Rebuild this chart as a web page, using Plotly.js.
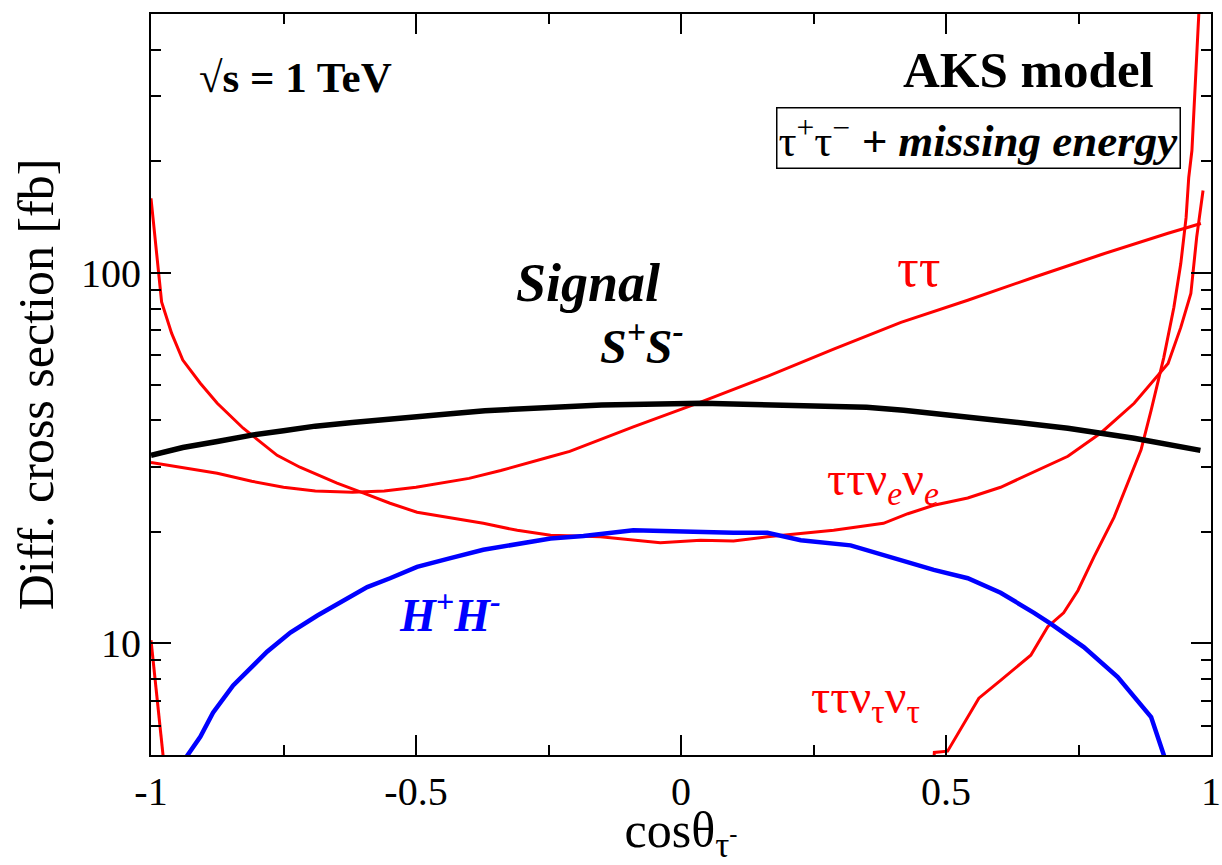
<!DOCTYPE html>
<html>
<head>
<meta charset="utf-8">
<script src="https://cdn.plot.ly/plotly-3.0.1.min.js"></script>
<style>
  html, body { margin: 0; padding: 0; background: #fff; }
  #chart { width: 1222px; height: 865px; }
</style>
</head>
<body>
<div id="chart"></div>
<script>
// Differential cross sections vs cos(theta) of the tau-, sqrt(s) = 1 TeV

// Signal S+S-
const cosSignal = [-1.0, -0.94, -0.875, -0.81, -0.75, -0.69, -0.62, -0.5, -0.435, -0.37, -0.25, -0.15, 0.04, 0.23, 0.35, 0.42, 0.48, 0.6, 0.73, 0.855, 0.98];
const xsSignal  = [32.2, 33.8, 35.1, 36.5, 37.5, 38.6, 39.5, 41.1, 41.7, 42.5, 43.4, 44.0, 44.5, 44.0, 43.4, 42.6, 41.8, 40.0, 38.1, 35.8, 33.2];

// H+H-
const cosHH = [-0.935, -0.907, -0.883, -0.845, -0.781, -0.737, -0.686, -0.637, -0.592, -0.549, -0.498, -0.435, -0.373, -0.246, -0.184, -0.09, 0.005, 0.099, 0.163, 0.226, 0.32, 0.415, 0.477, 0.541, 0.603, 0.666, 0.698, 0.76, 0.824, 0.887, 0.913];
const xsHH  = [4.9, 5.6, 6.5, 7.7, 9.5, 10.7, 11.9, 13.1, 14.2, 15.0, 16.1, 17.0, 17.9, 19.2, 19.5, 20.2, 20.0, 19.9, 19.9, 19.0, 18.4, 16.8, 15.8, 15.0, 13.7, 12.1, 11.3, 9.78, 8.11, 6.33, 4.9];

// tau tau
const cosTT = [-1.0, -0.875, -0.81, -0.75, -0.69, -0.62, -0.56, -0.5, -0.4, -0.34, -0.25, -0.21, -0.09, 0.037, 0.163, 0.288, 0.415, 0.541, 0.666, 0.792, 0.919, 0.981];
const xsTT  = [30.8, 28.8, 27.4, 26.4, 25.8, 25.6, 25.8, 26.4, 27.9, 29.3, 31.8, 33.0, 38.4, 44.8, 52.6, 62.3, 73.6, 84.4, 97.4, 112, 128, 136];

// tau tau nu_e nu_e
const cosTTee = [-1.0, -0.99, -0.98, -0.961, -0.94, -0.907, -0.875, -0.826, -0.762, -0.719, -0.686, -0.649, -0.6, -0.549, -0.498, -0.435, -0.373, -0.309, -0.246, -0.152, -0.039, 0.037, 0.099, 0.163, 0.288, 0.382, 0.428, 0.477, 0.541, 0.603, 0.666, 0.73, 0.792, 0.855, 0.919, 0.943, 0.962, 0.973, 0.985];
const xsTTee  = [159, 115, 83.5, 68.7, 58.2, 50.4, 44.5, 38.1, 32.2, 29.9, 28.5, 27.1, 25.5, 23.9, 22.6, 21.8, 21.1, 20.2, 19.6, 19.4, 18.7, 19.0, 18.9, 19.4, 20.2, 21.1, 22.4, 23.6, 24.7, 26.4, 29.0, 32.0, 37.0, 44.5, 57.0, 71.3, 88, 125, 167];

// tau tau nu_tau nu_tau (falls below the frame in the middle)
const cosTTtt = [-1.0, -0.977, -0.9, 0.476, 0.478, 0.503, 0.562, 0.603, 0.66, 0.692, 0.722, 0.749, 0.779, 0.817, 0.855, 0.868, 0.887, 0.911, 0.93, 0.943, 0.953, 0.958, 0.964, 0.977, 0.985];
const xsTTtt  = [10.2, 4.95, null, 4.5, 5.08, 5.12, 7.12, 7.95, 9.3, 11.1, 12.1, 13.9, 17.1, 21.9, 29.9, 33.3, 42.6, 59.2, 80.8, 106, 141, 181, 214, 500, 700];

// Axis ticks
const xTickVals = [-1, -0.5, 0, 0.5, 1];
const xTickText = ['-1', '-0.5', '0', '0.5', '1'];
const xMinorVals = [-0.75, -0.25, 0.25, 0.75];
const yTickVals = [10, 100];
const yTickText = ['10', '100'];
const yMinorVals = [6, 7, 8, 9, 20, 30, 40, 50, 60, 70, 80, 90, 200, 300, 400];

const RED = '#ff0000', BLUE = '#0000ff', BLACK = '#000000';
const SERIF = '"Liberation Serif", "Times New Roman", Times, serif';

function line(x, y, color, width) {
  return { x: x, y: y, type: 'scatter', mode: 'lines', connectgaps: false,
           line: { color: color, width: width }, hoverinfo: 'skip', showlegend: false };
}

const traces = [
  line(cosTT, xsTT, RED, 3),
  line(cosTTee, xsTTee, RED, 3),
  line(cosTTtt, xsTTtt, RED, 3),
  line(cosHH, xsHH, BLUE, 4.5),
  line(cosSignal, xsSignal, BLACK, 5.5)
];

// Place text by frame fractions
function note(text, x, y, size, color, extra) {
  return Object.assign({ text: text, x: x, y: y, xref: 'paper', yref: 'paper',
    xanchor: 'center', yanchor: 'middle', showarrow: false,
    font: { family: SERIF, size: size, color: color } }, extra || {});
}

const annotations = [
  note('<b>√s = 1 TeV</b>', 0.136, 0.914, 43, BLACK),
  note('<b>AKS model</b>', 0.828, 0.924, 51, BLACK),
  note('τ<sup>+</sup>τ<sup>−</sup><b><i> + missing energy</i></b>', 0.7805, 0.833, 45, BLACK,
       { bordercolor: BLACK, borderwidth: 1.5, borderpad: 1, bgcolor: '#ffffff' }),
  note('<b><i>Signal</i></b>', 0.4127, 0.637, 54, BLACK),
  note('<b><i>S<sup>+</sup>S<sup>-</sup></i></b>', 0.4635, 0.556, 48, BLACK),
  note('ττ', 0.7245, 0.657, 54, RED),
  note('ττν<sub><i>e</i></sub>ν<sub><i>e</i></sub>', 0.691, 0.368, 48, RED),
  note('<b><i>H<sup>+</sup>H<sup>-</sup></i></b>', 0.282, 0.193, 46, BLUE),
  note('ττν<sub>τ</sub>ν<sub>τ</sub>', 0.674, 0.074, 48, RED)
];

const layout = {
  width: 1222, height: 865,
  margin: { l: 151, r: 11, t: 14, b: 110 },
  paper_bgcolor: '#ffffff', plot_bgcolor: '#ffffff',
  font: { family: SERIF, color: BLACK },
  showlegend: false,
  xaxis: {
    range: [-1, 1], showgrid: false, zeroline: false,
    showline: true, linecolor: BLACK, linewidth: 2, mirror: 'allticks',
    ticks: 'inside', ticklen: 20, tickwidth: 2, tickcolor: BLACK,
    tickvals: xTickVals, ticktext: xTickText,
    tickfont: { family: SERIF, size: 40, color: BLACK },
    minor: { tickvals: xMinorVals, ticks: 'inside', ticklen: 10, tickwidth: 2, tickcolor: BLACK, showgrid: false },
    title: { text: 'cosθ<sub>τ<sup>-</sup></sub>', font: { family: SERIF, size: 50, color: BLACK }, standoff: 16 }
  },
  yaxis: {
    type: 'log', range: [Math.log10(5), Math.log10(500)],
    showgrid: false, zeroline: false,
    showline: true, linecolor: BLACK, linewidth: 2, mirror: 'allticks',
    ticks: 'inside', ticklen: 20, tickwidth: 2, tickcolor: BLACK,
    tickvals: yTickVals, ticktext: yTickText,
    tickfont: { family: SERIF, size: 40, color: BLACK },
    minor: { tickvals: yMinorVals, ticks: 'inside', ticklen: 10, tickwidth: 2, tickcolor: BLACK, showgrid: false },
    title: { text: 'Diff. cross section [fb]', font: { family: SERIF, size: 50, color: BLACK }, standoff: 12 }
  },
  annotations: annotations
};

Plotly.newPlot('chart', traces, layout, { staticPlot: true, displayModeBar: false });
</script>
</body>
</html>
